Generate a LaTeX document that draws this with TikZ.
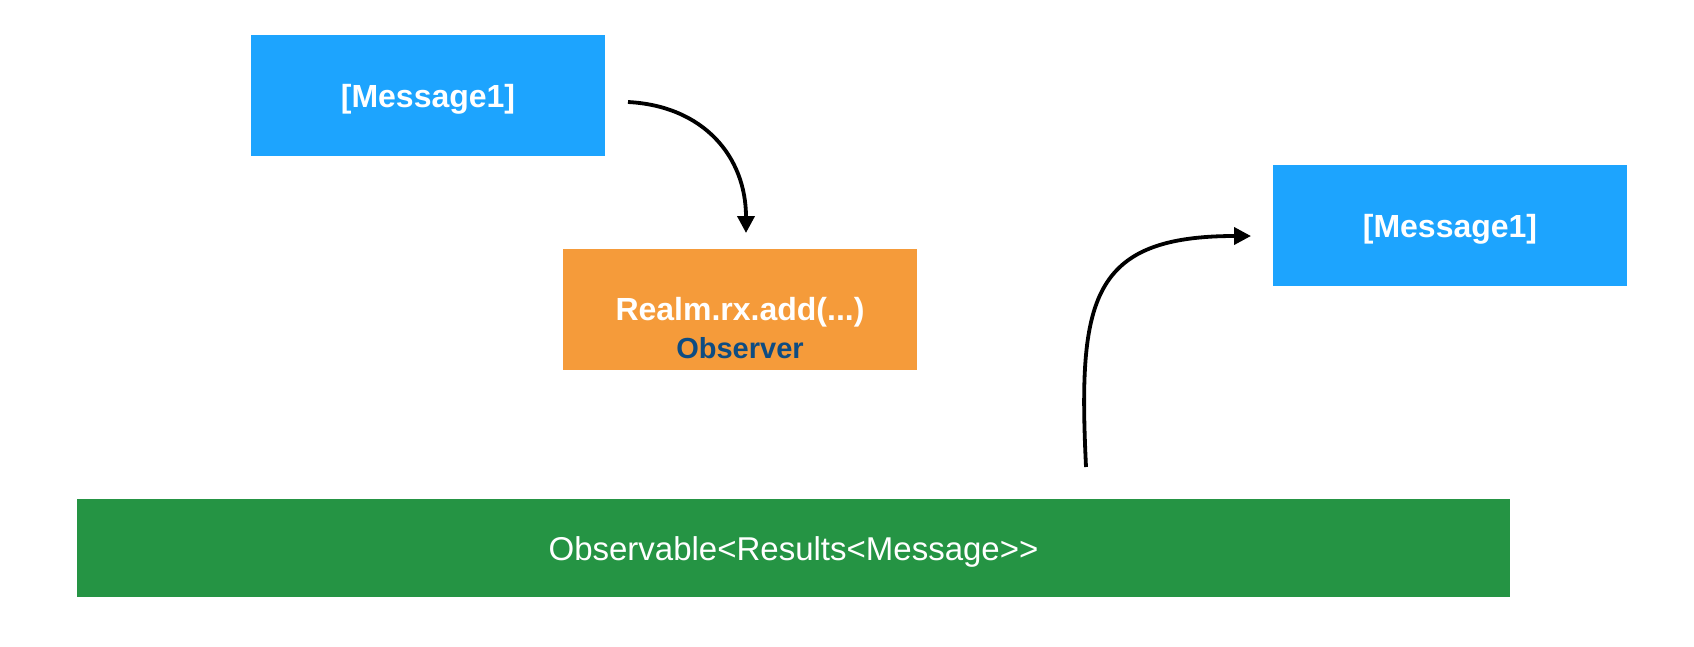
\documentclass[tikz,border=0pt]{standalone}
\usepackage{fontspec}
\setmainfont[Ligatures=NoCommon]{Liberation Sans}
\usetikzlibrary{arrows.meta}
\definecolor{msgblue}{HTML}{1DA4FE}
\definecolor{obsorange}{HTML}{F59B3A}
\definecolor{strgreen}{HTML}{259444}
\definecolor{obsblue}{HTML}{0E4C82}
\tikzset{
  boxbase/.style={rectangle, inner sep=0pt, outer sep=0pt, anchor=north west, align=center, text=white},
  msgbox/.style={boxbase, fill=msgblue, minimum width=354pt, minimum height=121pt, text height=24.5pt, text depth=0pt, font=\fontsize{32}{38}\selectfont\bfseries},
  opbox/.style={boxbase, fill=obsorange, minimum width=354pt, minimum height=121pt},
  optext/.style={anchor=base, inner sep=0pt, font=\fontsize{32}{38}\selectfont\bfseries, text=white},
  obstext/.style={anchor=base, inner sep=0pt, font=\fontsize{29}{34}\selectfont\bfseries, text=obsblue},
  streambox/.style={boxbase, fill=strgreen, minimum width=1433pt, minimum height=98pt, text height=25pt, text depth=0pt, font=\fontsize{33}{39}\selectfont},
  conn/.style={line width=3.8pt, -{Triangle[width=17pt,length=17pt]}}
}
\begin{document}
\begin{tikzpicture}[x=1pt,y=-1pt]
\useasboundingbox (0,0) rectangle (1694,646);
\node[msgbox] (m1) at (251,35) {[Message1]};
\node[opbox] (op) at (563,249) {};
\node[optext] (opcall) at ([yshift=-11pt]op.center) {Realm.rx.add(...)};
\node[obstext] (opobs) at ([yshift=-49pt]op.center) {Observer};
\node[msgbox] (m2) at (1273,165) {[Message1]};
\node[streambox] (st) at (77,499) {Observable<Results<Message>{}>};
\coordinate (a1s) at (628,102);
\coordinate (a1e) at (746,233);
\coordinate (a2s) at (1086,467);
\coordinate (a2e) at (1251,236);
\draw[conn] (a1s) to[out=-3,in=90,looseness=1.1] (a1e);
\draw[conn] (a2s) .. controls (1078,300) and (1090,236) .. (a2e);
\end{tikzpicture}
\end{document}
